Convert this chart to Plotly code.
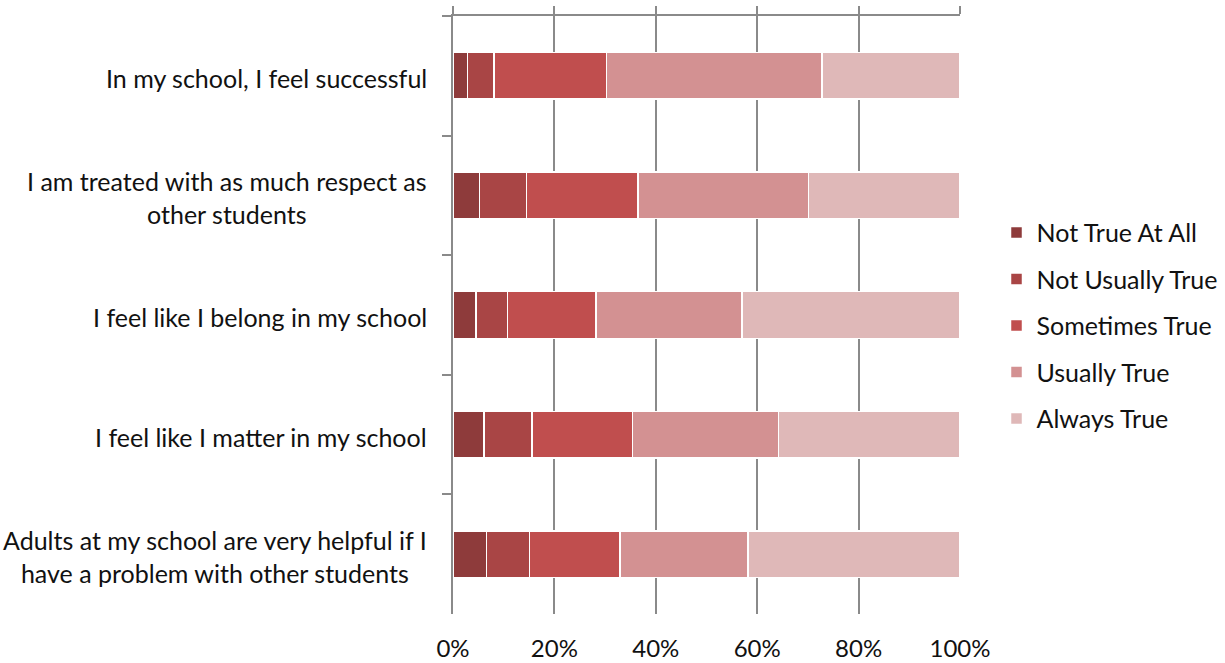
import plotly.graph_objects as go

statements = [
    "In my school, I feel successful",
    "I am treated with as much respect as<br>other students",
    "I feel like I belong in my school",
    "I feel like I matter in my school",
    "Adults at my school are very helpful if I<br>have a problem with other students",
]
categories = ["Not True At All", "Not Usually True", "Sometimes True", "Usually True", "Always True"]
colors = ["#8e3b3b", "#a94545", "#c04e4e", "#d39192", "#dfb8b8"]

# Percent of responses per statement, one list per response category
not_true_at_all = [2.9, 5.2, 4.5, 6.1, 6.6]
not_usually_true = [5.2, 9.3, 6.2, 9.5, 8.5]
sometimes_true = [22.2, 22.0, 17.5, 19.8, 17.8]
usually_true = [42.5, 33.6, 28.8, 28.8, 25.3]
always_true = [27.2, 29.9, 43.0, 35.8, 41.8]
series = [not_true_at_all, not_usually_true, sometimes_true, usually_true, always_true]

x_ticks = [0, 20, 40, 60, 80, 100]
x_tick_labels = ["0%", "20%", "40%", "60%", "80%", "100%"]

FONT = "Lato"
TXT = "#111111"
AXIS = "#8a8a8a"

fig = go.Figure()
for name, vals, col in zip(categories, series, colors):
    fig.add_trace(go.Bar(
        y=statements, x=vals, name=name, orientation="h",
        marker=dict(color=col, line=dict(color="white", width=1.5)),
        legendgroup=name,
    ))

# empty trace so the label axis along the bottom gets drawn
fig.add_trace(go.Scatter(x=[], y=[], xaxis="x2", yaxis="y", showlegend=False, hoverinfo="skip"))

for s in statements:
    fig.add_annotation(
        x=0, xref="paper", y=s, yref="y", text=s, showarrow=False,
        xanchor="right", xshift=-24, yshift=-2, align="center",
        font=dict(family=FONT, size=25, color=TXT),
    )

fig.update_layout(
    width=1225, height=663,
    margin=dict(l=453, r=265, t=16, b=49, autoexpand=False),
    barmode="stack", bargap=0.61,
    plot_bgcolor="white", paper_bgcolor="white",
    font=dict(family=FONT, size=25, color=TXT),
    legend=dict(
        x=1.072, xanchor="left", y=0.482, yanchor="middle",
        traceorder="grouped", tracegroupgap=11,
        font=dict(family=FONT, size=25, color=TXT),
        itemwidth=30,
    ),
    xaxis=dict(
        range=[0, 100], tickvals=x_ticks, side="top", showticklabels=False,
        showgrid=True, gridcolor=AXIS, gridwidth=1.5, automargin=False,
        zeroline=False, showline=True, linecolor=AXIS, linewidth=1.5,
        ticks="outside", ticklen=8, tickcolor=AXIS, tickwidth=1.5,
    ),
    xaxis2=dict(
        range=[0, 100], overlaying="x", side="bottom", anchor="y",
        tickvals=x_ticks, ticktext=x_tick_labels, ticklabelstandoff=18,
        showgrid=False, zeroline=False, showline=False, ticks="", automargin=False,
        tickfont=dict(family=FONT, size=24, color=TXT),
    ),
    yaxis=dict(
        autorange="reversed", showticklabels=False, automargin=False,
        showline=True, linecolor=AXIS, linewidth=1.5,
        ticks="outside", tickson="boundaries", ticklen=9, tickcolor=AXIS, tickwidth=1.5,
        showgrid=False, zeroline=False,
    ),
)

fig.write_html("out.html")
